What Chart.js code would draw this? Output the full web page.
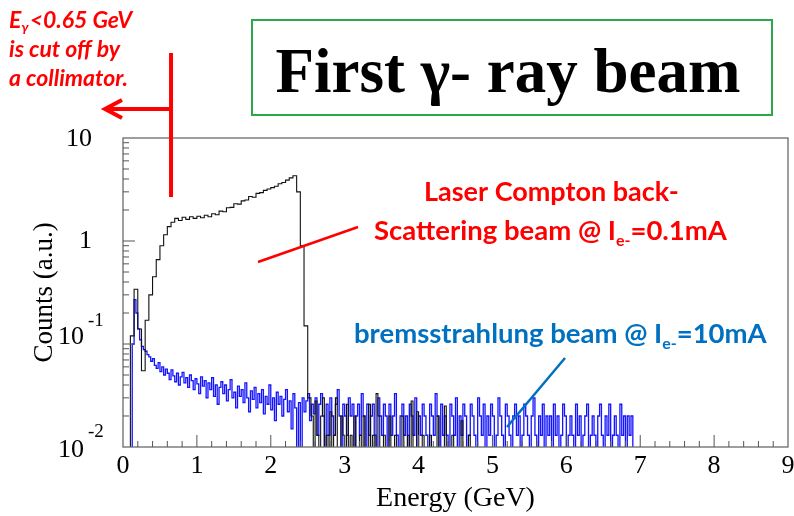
<!DOCTYPE html>
<html><head><meta charset="utf-8">
<script src="https://cdn.jsdelivr.net/npm/chart.js@4/dist/chart.umd.min.js"></script>
<style>html,body{margin:0;padding:0;background:#fff}#wrap{width:794px;height:516px;position:relative}</style>
</head><body><div id="wrap"><canvas id="c" width="794" height="516"></canvas></div>
<script>
// ---- data ----
// Laser Compton back-scattering spectrum, 0.05 GeV bins
const comptonBinWidth = 0.05;
const comptonFirstBin = 0.075;    // centre of first bin (GeV)
const comptonCounts = [
  0.004, 0.12, 0.34, 0.14, 0.055, 0.17, 0.30, 0.45, 0.66, 0.90,
  1.15, 1.38, 1.52, 1.66, 1.58, 1.70, 1.62, 1.72, 1.66, 1.74,
  1.68, 1.78, 1.72, 1.84, 1.80, 1.95, 1.92, 2.10, 2.12, 2.30,
  2.28, 2.45, 2.50, 2.70, 2.66, 2.90, 2.95, 3.10, 3.20, 3.30,
  3.40, 3.60, 3.70, 3.90, 4.10, 4.30, 3.00, 0.90, 0.15, 0.03
];
// its sparse tail above the Compton edge, 0.025 GeV bins (0.004 = empty bin)
const comptonTailBinWidth = 0.025;
const comptonTailFirstBin = 2.5625;
const comptonTailCounts = [
  0.020, 0.004, 0.028, 0.013, 0.004, 0.020, 0.030, 0.004, 0.013, 0.004,
  0.022, 0.004, 0.013, 0.030, 0.004, 0.004, 0.020, 0.013, 0.004, 0.026,
  0.004, 0.013, 0.004, 0.020, 0.004, 0.004, 0.013, 0.004, 0.020, 0.004,
  0.004, 0.026, 0.004, 0.013, 0.004, 0.033, 0.020, 0.004, 0.004, 0.013,
  0.004, 0.004, 0.020, 0.004, 0.004, 0.013, 0.004, 0.004, 0.004, 0.020,
  0.004, 0.004, 0.013, 0.004, 0.028, 0.004, 0.004, 0.022, 0.004, 0.004,
  0.013, 0.004, 0.004, 0.004, 0.013, 0.004, 0.004, 0.004, 0.020, 0.004,
  0.004, 0.004, 0.025, 0.004, 0.004, 0.004, 0.013, 0.004, 0.004, 0.004,
  0.004, 0.018, 0.004, 0.004, 0.004, 0.013, 0.004, 0.004, 0.004
];
// bremsstrahlung spectrum, 0.025 GeV bins (0.004 = empty bin)
const bremsBinWidth = 0.025;
const bremsFirstBin = 0.1125;
const bremsCounts = [
  0.004, 0.10, 0.27, 0.20, 0.14, 0.11, 0.095, 0.088, 0.085, 0.079,
  0.075, 0.068, 0.072, 0.062, 0.058, 0.066, 0.054, 0.060, 0.050, 0.057,
  0.052, 0.045, 0.056, 0.049, 0.043, 0.052, 0.040, 0.048, 0.053, 0.042,
  0.047, 0.038, 0.050, 0.044, 0.036, 0.046, 0.041, 0.033, 0.048, 0.039,
  0.044, 0.030, 0.042, 0.036, 0.047, 0.031, 0.040, 0.026, 0.038, 0.043,
  0.033, 0.040, 0.028, 0.036, 0.045, 0.030, 0.034, 0.024, 0.039, 0.031,
  0.036, 0.027, 0.042, 0.030, 0.022, 0.035, 0.029, 0.038, 0.024, 0.033,
  0.027, 0.036, 0.021, 0.031, 0.026, 0.040, 0.023, 0.030, 0.018, 0.034,
  0.026, 0.031, 0.020, 0.029, 0.036, 0.022, 0.028, 0.015, 0.033, 0.024,
  0.004, 0.027, 0.004, 0.030, 0.022, 0.028, 0.033, 0.018, 0.026, 0.021,
  0.030, 0.013, 0.026, 0.033, 0.020, 0.004, 0.026, 0.013, 0.030, 0.020,
  0.013, 0.026, 0.036, 0.020, 0.004, 0.026, 0.020, 0.013, 0.030, 0.020,
  0.026, 0.004, 0.020, 0.026, 0.013, 0.033, 0.020, 0.004, 0.026, 0.013,
  0.020, 0.026, 0.013, 0.004, 0.030, 0.020, 0.013, 0.026, 0.020, 0.004,
  0.026, 0.013, 0.020, 0.033, 0.013, 0.004, 0.020, 0.026, 0.013, 0.020,
  0.004, 0.026, 0.020, 0.013, 0.030, 0.004, 0.020, 0.013, 0.026, 0.020,
  0.013, 0.004, 0.026, 0.020, 0.013, 0.033, 0.020, 0.004, 0.026, 0.013,
  0.020, 0.013, 0.004, 0.026, 0.020, 0.013, 0.030, 0.004, 0.020, 0.013,
  0.026, 0.020, 0.004, 0.013, 0.026, 0.020, 0.013, 0.004, 0.030, 0.020,
  0.013, 0.026, 0.004, 0.020, 0.013, 0.026, 0.020, 0.004, 0.013, 0.030,
  0.020, 0.013, 0.004, 0.026, 0.020, 0.013, 0.004, 0.020, 0.026, 0.013,
  0.020, 0.004, 0.013, 0.026, 0.020, 0.013, 0.004, 0.020, 0.030, 0.013,
  0.004, 0.020, 0.013, 0.026, 0.004, 0.020, 0.013, 0.020, 0.004, 0.026,
  0.013, 0.020, 0.004, 0.013, 0.026, 0.020, 0.004, 0.013, 0.020, 0.013,
  0.004, 0.026, 0.013, 0.020, 0.004, 0.013, 0.020, 0.026, 0.004, 0.013,
  0.020, 0.013, 0.004, 0.020, 0.026, 0.013, 0.004, 0.020, 0.013, 0.026,
  0.004, 0.013, 0.020, 0.013, 0.004, 0.026, 0.013, 0.020, 0.004, 0.020,
  0.013, 0.020, 0.004
];
const xTickValues = [0, 1, 2, 3, 4, 5, 6, 7, 8, 9];
const yTickValues = [10, 1, 0.1, 0.01];
const yTickLabels = [['10', ''], ['1', ''], ['10', '-1'], ['10', '-2']];

const toPoints = (first, width, counts) => counts.map((v, i) => ({x: first + i * width, y: v}));

const serif = 'Liberation Serif, Times New Roman, serif';
const sans = 'Lato, Liberation Sans, sans-serif';

const decor = {
  id: 'decor',
  afterDatasetsDraw(chart) {
    const {ctx, chartArea: a, scales: {x, y}} = chart;
    ctx.save();
    ctx.strokeStyle = '#6a6a6a'; ctx.lineWidth = 1.3;
    ctx.strokeRect(a.left, a.top, a.right - a.left, a.bottom - a.top);
    ctx.beginPath();
    for (let i = 1; i < 45; i++) {
      const px = x.getPixelForValue(i * 0.2);
      const len = i % 5 === 0 ? 12 : 6;
      ctx.moveTo(px, a.bottom); ctx.lineTo(px, a.bottom - len);
    }
    for (let d = -2; d <= 0; d++) {
      for (let m = 1; m <= 9; m++) {
        const v = m * Math.pow(10, d);
        const py = y.getPixelForValue(v);
        if (py >= a.bottom - 0.5 || py <= a.top + 0.5) continue;
        const len = m === 1 ? 12 : 6;
        ctx.moveTo(a.left, py); ctx.lineTo(a.left + len, py);
      }
    }
    ctx.lineWidth = 1; ctx.strokeStyle = '#555';
    ctx.stroke();
    ctx.fillStyle = '#000';
    ctx.textBaseline = 'middle';
    const offs = [[1, 0], [0, 0], [-7, -23], [3, -15]];
    yTickValues.forEach((v, i) => {
      const py = y.getPixelForValue(v);
      const [base, sup] = yTickLabels[i];
      ctx.font = '26px ' + serif;
      ctx.textAlign = 'right';
      if (!sup) {
        ctx.fillText(base, 92, py + offs[i][0]);
      } else {
        ctx.fillText(base, 84, py + offs[i][0]);
        ctx.font = '19px ' + serif;
        ctx.textAlign = 'left';
        ctx.fillText(sup, 88, py + offs[i][1]);
      }
    });
    ctx.restore();
  },
  afterDraw(chart) {
    const {ctx, scales: {x}} = chart;
    ctx.save();
    const red = '#ff0000';
    const cx = x.getPixelForValue(0.65);
    ctx.strokeStyle = red; ctx.lineWidth = 4;
    ctx.beginPath(); ctx.moveTo(cx, 53); ctx.lineTo(cx, 197); ctx.stroke();
    ctx.beginPath(); ctx.moveTo(cx, 109); ctx.lineTo(106, 109); ctx.stroke();
    ctx.lineJoin = 'miter';
    ctx.beginPath(); ctx.moveTo(122, 100); ctx.lineTo(105, 109); ctx.lineTo(122, 118); ctx.stroke();
    ctx.fillStyle = red; ctx.textBaseline = 'alphabetic'; ctx.textAlign = 'left';
    ctx.font = 'italic bold 23px ' + sans;
    ctx.fillText('E', 9, 28);
    const w = ctx.measureText('E').width;
    ctx.font = 'italic bold 14px ' + sans;
    ctx.fillText('γ', 9 + w, 32);
    const w2 = ctx.measureText('γ').width;
    ctx.font = 'italic bold 23px ' + sans;
    ctx.fillText('<0.65 GeV', 9 + w + w2 + 1, 28);
    ctx.fillText('is cut off by', 9, 57);
    ctx.fillText('a collimator.', 9, 86);
    ctx.strokeStyle = '#2aa84a'; ctx.lineWidth = 2;
    ctx.strokeRect(252, 20, 520, 95);
    ctx.fillStyle = '#000'; ctx.textAlign = 'center';
    ctx.font = 'bold 63px ' + serif;
    ctx.fillText('First γ- ray beam', 508, 92);
    ctx.fillStyle = red; ctx.textAlign = 'left';
    ctx.font = 'bold 27px ' + sans;
    ctx.fillText('Laser Compton back-', 424, 201);
    const drawIe = (pre, post, x0, yb, color, size) => {
      ctx.fillStyle = color;
      ctx.font = 'bold ' + size + 'px ' + sans;
      ctx.fillText(pre, x0, yb);
      let xx = x0 + ctx.measureText(pre).width;
      ctx.font = 'bold 16px ' + sans;
      ctx.fillText('e-', xx, yb + 6);
      xx += ctx.measureText('e-').width;
      ctx.font = 'bold ' + size + 'px ' + sans;
      ctx.fillText(post, xx, yb);
    };
    drawIe('Scattering beam @ I', '=0.1mA', 374, 240, red, 27.5);
    ctx.strokeStyle = red; ctx.lineWidth = 2.5;
    ctx.beginPath(); ctx.moveTo(258, 262); ctx.lineTo(358, 227); ctx.stroke();
    const blue = '#0070c0';
    drawIe('bremsstrahlung beam @ I', '=10mA', 354, 343, blue, 27.5);
    ctx.strokeStyle = blue; ctx.lineWidth = 2.5;
    ctx.beginPath(); ctx.moveTo(565, 358); ctx.lineTo(507, 427); ctx.stroke();
    ctx.restore();
  }
};

new Chart(document.getElementById('c'), {
  type: 'line',
  data: {
    datasets: [
      {label: 'Laser Compton back-scattering',
       data: toPoints(comptonFirstBin, comptonBinWidth, comptonCounts)
               .concat(toPoints(comptonTailFirstBin, comptonTailBinWidth, comptonTailCounts)),
       borderColor: '#111', borderWidth: 1.1, pointRadius: 0, stepped: 'middle', fill: false},
      {label: 'bremsstrahlung', data: toPoints(bremsFirstBin, bremsBinWidth, bremsCounts),
       borderColor: '#1414ff', borderWidth: 1.3, pointRadius: 0, stepped: 'middle', fill: false}
    ]
  },
  options: {
    responsive: false, animation: false, devicePixelRatio: 1,
    layout: {padding: {top: 138, right: 6, left: 0, bottom: 0}},
    plugins: {legend: {display: false}, tooltip: {enabled: false}},
    scales: {
      x: {type: 'linear', min: 0, max: 9,
          afterBuildTicks: s => { s.ticks = xTickValues.map(v => ({value: v})); },
          afterFit: s => { s.height = 69; },
          grid: {display: false}, border: {display: false},
          ticks: {color: '#000', font: {family: serif, size: 26}, padding: -4, maxRotation: 0},
          title: {display: true, text: 'Energy (GeV)', color: '#000', font: {family: serif, size: 28}, padding: {top: 0, bottom: 1}}},
      y: {type: 'logarithmic', min: 0.01, max: 10,
          afterFit: s => { s.width = 123; },
          grid: {display: false}, border: {display: false},
          ticks: {display: false},
          title: {display: true, text: 'Counts (a.u.)', color: '#000', font: {family: serif, size: 27}, padding: {top: 29, bottom: 0}}}
    }
  },
  plugins: [decor]
});
</script></body></html>
